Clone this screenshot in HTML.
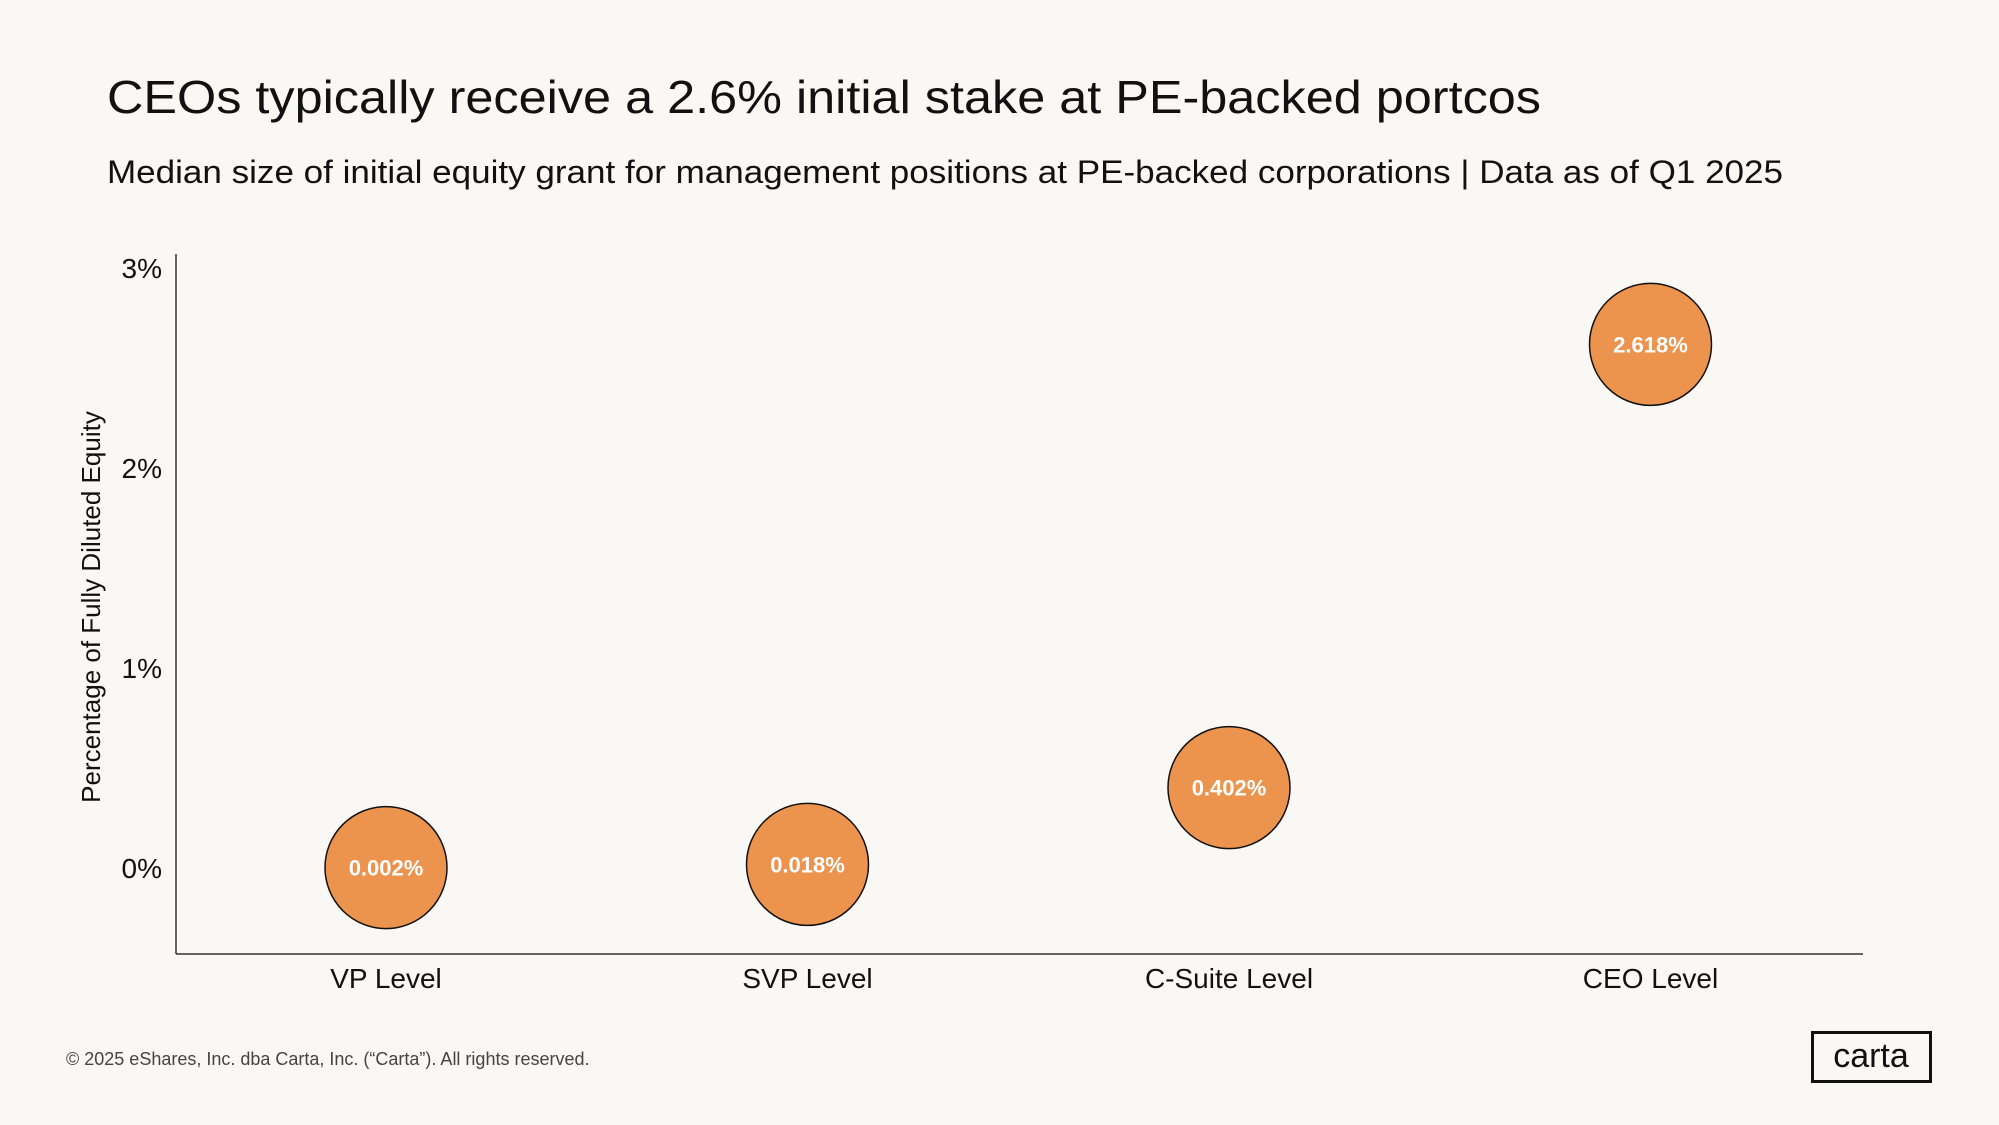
<!DOCTYPE html>
<html><head><meta charset="utf-8"><style>
html,body{margin:0;padding:0;background:#faf8f4;}
svg{display:block;font-family:"Liberation Sans",sans-serif;}
</style></head><body>
<svg id="chart" width="1999" height="1125" viewBox="0 0 1999 1125" xmlns="http://www.w3.org/2000/svg">
<rect width="1999" height="1125" fill="#faf8f4"/>
<text x="107" y="113" font-size="46" fill="#111" textLength="1434" lengthAdjust="spacingAndGlyphs">CEOs typically receive a 2.6% initial stake at PE-backed portcos</text>
<text x="107" y="183" font-size="32" fill="#111" textLength="1676" lengthAdjust="spacingAndGlyphs">Median size of initial equity grant for management positions at PE-backed corporations | Data as of Q1 2025</text>
<line x1="176" y1="254" x2="176" y2="954" stroke="#333" stroke-width="1.5"/>
<line x1="176" y1="954" x2="1863" y2="954" stroke="#333" stroke-width="1.5"/>
<text transform="translate(100,607) rotate(-90)" text-anchor="middle" font-size="26" fill="#111">Percentage of Fully Diluted Equity</text>
<g id="yticks"></g><g id="xlabels"></g><g id="points"></g>
<text x="66" y="1065" font-size="18" fill="#444">© 2025 eShares, Inc. dba Carta, Inc. (“Carta”). All rights reserved.</text>
<rect x="1812.5" y="1032.5" width="118" height="49" fill="none" stroke="#111" stroke-width="3"/>
<text x="1871" y="1067" text-anchor="middle" font-size="34" fill="#111">carta</text>
</svg>
<script>
const categories = ["VP Level","SVP Level","C-Suite Level","CEO Level"];
const values = [0.002,0.018,0.402,2.618];
const valueLabels = ["0.002%","0.018%","0.402%","2.618%"];
const yTicks = [0,1,2,3];
const yTickLabels = ["0%","1%","2%","3%"];
const NS="http://www.w3.org/2000/svg";
function yScale(v){return 868-200*v;}
function xScale(i){return 386+i*421.5;}
function mk(tag,attrs,parent,txt){const e=document.createElementNS(NS,tag);for(const k in attrs)e.setAttribute(k,attrs[k]);if(txt!==undefined)e.textContent=txt;parent.appendChild(e);return e;}
const yt=document.getElementById('yticks');
yTicks.forEach((t,i)=>{
  const e=mk('text',{x:162,y:yScale(t)+10,'text-anchor':'end','font-size':28,fill:'#111'},yt,yTickLabels[i]);
  
  
});
const xl=document.getElementById('xlabels');
categories.forEach((c,i)=>{
  const e=mk('text',{x:xScale(i),y:988,'text-anchor':'middle','font-size':28,fill:'#111'},xl,c);
  
  
});
const pg=document.getElementById('points');
values.forEach((v,i)=>{
  const c=mk('circle',{cx:xScale(i),cy:yScale(v),r:61,fill:'#ec934e',stroke:'#111','stroke-width':1.5},pg);
  
  
  const t=mk('text',{x:xScale(i),y:yScale(v)+8,'text-anchor':'middle','font-size':22,'font-weight':'bold',fill:'#fff'},pg,valueLabels[i]);
  
  
});
</script>
</body></html>
